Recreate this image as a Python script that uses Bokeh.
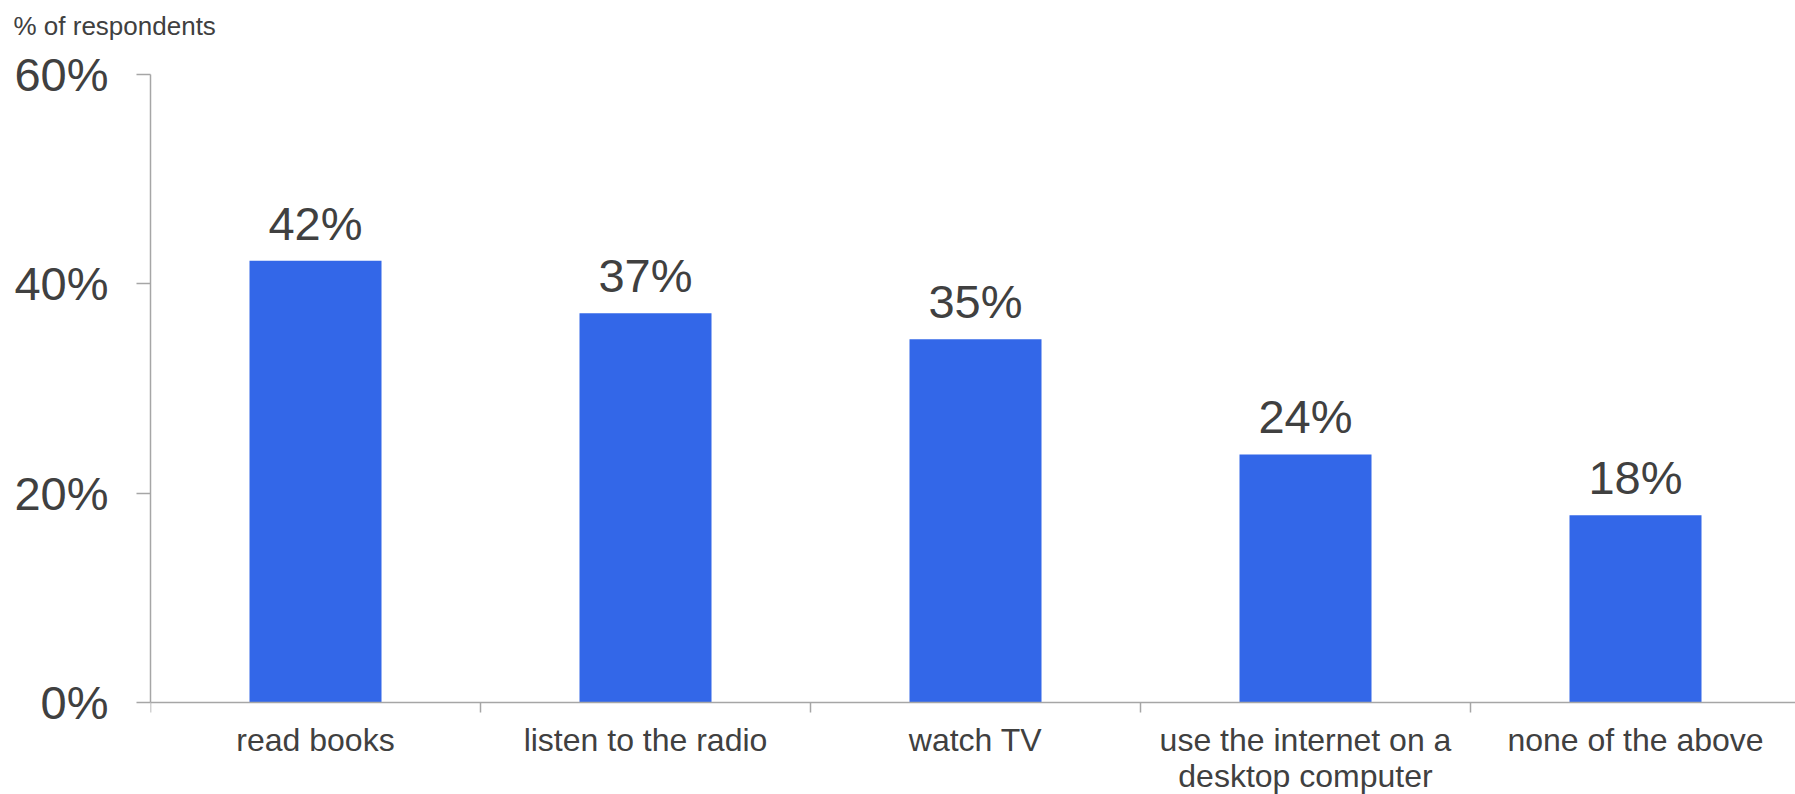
from bokeh.plotting import figure
from bokeh.models import (ColumnDataSource, LabelSet, Range1d, FixedTicker,
                          PrintfTickFormatter, Title)
from bokeh.embed import file_html
from bokeh.resources import INLINE
from bokeh.core.properties import value

# ---- data ----
categories = ["read books", "listen to the radio", "watch TV",
              "use the internet on a\ndesktop computer", "none of the above"]
shares = [42.2, 37.2, 34.7, 23.7, 17.9]
y_ticks = [0, 20, 40, 60]
title_text = "% of respondents"

# ---- style ----
FONT = "Liberation Sans"
TEXT = "#404040"
AXIS = "#a6a6a6"
BAR = "#3367e8"

n = len(categories)
centers = [i + 0.5 for i in range(n)]
src = ColumnDataSource(dict(
    x=centers, top=shares,
    label=[f"{round(v)}%" for v in shares],
    cat=categories, zero=[0] * n))

W, H = 1795, 794
LEFT, TOP = 150, 74
ZERO_PX = 702            # screen y of the 0% baseline
CAT_PX = 330             # width of one category in pixels
Y_MAX = 60
px_per_unit = (ZERO_PX - TOP) / Y_MAX
y_min = -(H - ZERO_PX) / px_per_unit

p = figure(width=W, height=H, output_backend="svg", toolbar_location=None,
           x_range=Range1d(0, (W - LEFT) / CAT_PX), y_range=Range1d(y_min, Y_MAX),
           x_axis_location="above",
           min_border_left=LEFT, min_border_right=0,
           min_border_top=TOP, min_border_bottom=0)
p.title.visible = False
p.outline_line_color = None
p.background_fill_color = "white"
p.border_fill_color = "white"
p.xgrid.visible = False
p.ygrid.visible = False

# spacer between the (above) x axis panel and the title, then the title on top
p.add_layout(Title(text=" ", text_font_size="10px", standoff=11), "above")
p.add_layout(Title(text=title_text, text_font=FONT, text_font_size="26px",
                   text_font_style="normal", text_color=TEXT, align="left",
                   vertical_align="top", offset=-137, standoff=16), "above")

ya = p.yaxis[0]
ya.ticker = FixedTicker(ticks=y_ticks)
ya.bounds = (0, Y_MAX)
ya.formatter = PrintfTickFormatter(format="%d%%")
ya.major_label_text_font = FONT
ya.major_label_text_font_size = "47px"
ya.major_label_text_color = TEXT
ya.major_label_standoff = 28
ya.major_tick_out = 14
ya.major_tick_in = 0
ya.minor_tick_line_color = None
ya.axis_line_color = AXIS
ya.major_tick_line_color = AXIS
ya.axis_line_width = 1.5
ya.major_tick_line_width = 1.5

xa = p.xaxis[0]
xa.fixed_location = 0
xa.ticker = FixedTicker(ticks=list(range(n)))
xa.major_label_overrides = {i: "" for i in range(n)}
xa.major_label_text_font_size = "1px"
xa.major_label_standoff = 0
xa.major_tick_out = 0
xa.major_tick_in = 10
xa.minor_tick_line_color = None
xa.axis_line_color = AXIS
xa.major_tick_line_color = AXIS
xa.axis_line_width = 1.5
xa.major_tick_line_width = 1.5

p.vbar(x="x", top="top", bottom=0, width=0.4, source=src, fill_color=BAR, line_color=None)

p.add_layout(LabelSet(x="x", y="top", text="label", source=src, y_offset=21,
                      text_align="center", text_baseline="alphabetic",
                      text_font=value(FONT), text_font_size="47px", text_color=TEXT))

p.text(x="x", y="zero", text="cat", source=src, y_offset=19,
       text_align="center", text_baseline="top",
       text_font=value(FONT), text_font_size="32px", text_color=TEXT,
       text_line_height=1.02)

open("out.html", "w").write(file_html(p, INLINE))
